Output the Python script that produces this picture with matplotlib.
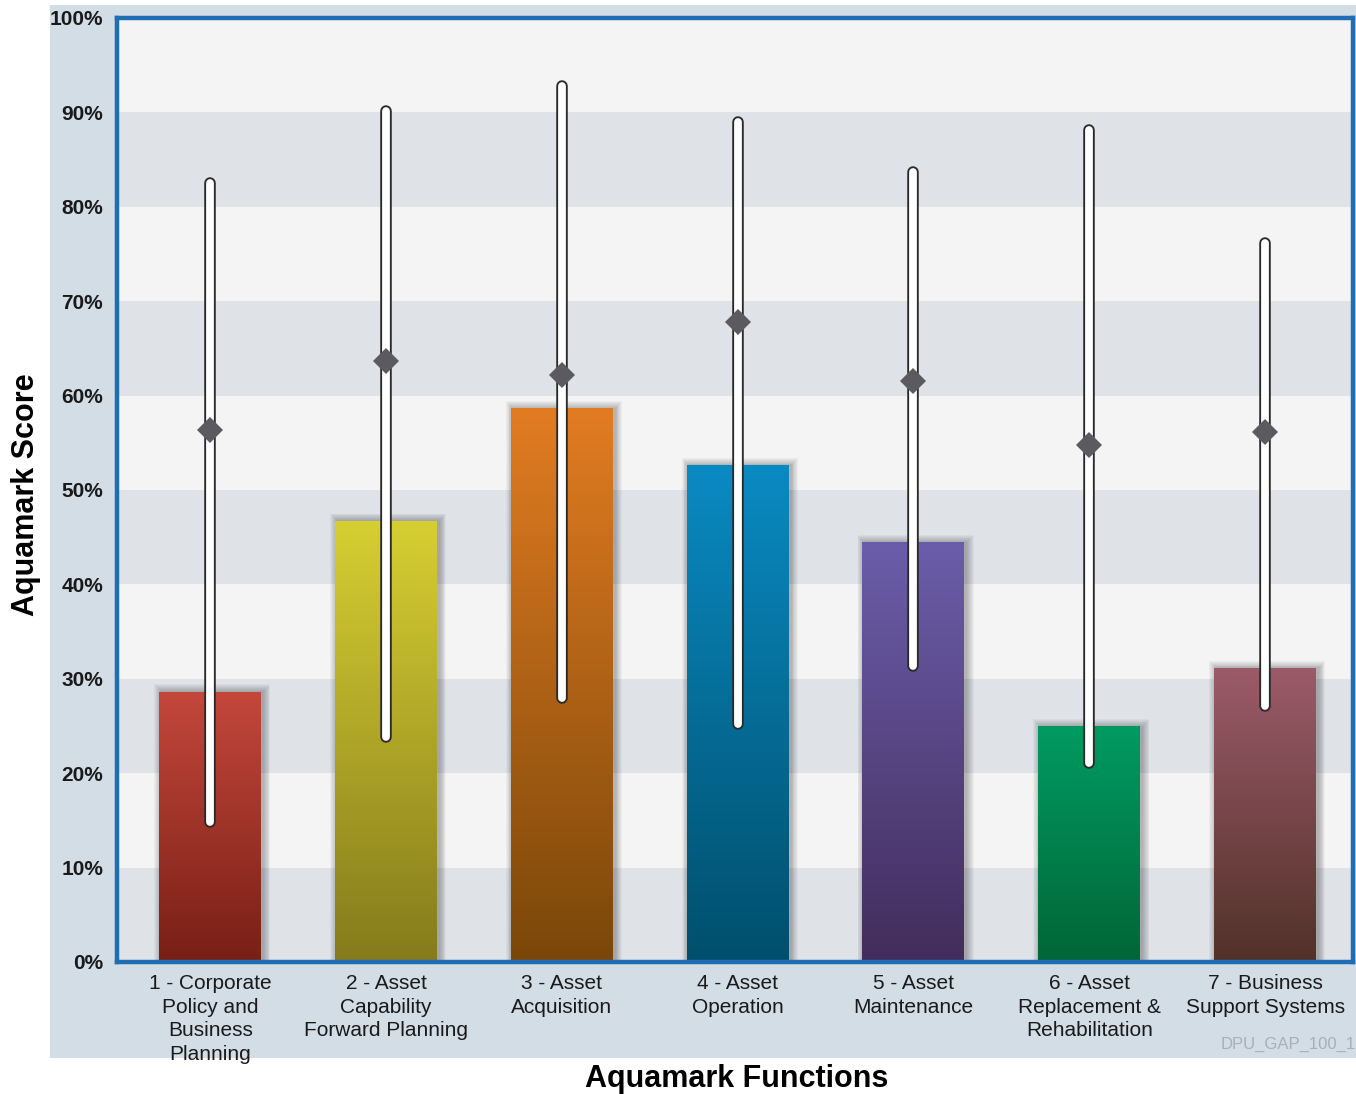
import numpy as np
import matplotlib.pyplot as plt
from matplotlib.patches import Rectangle
from matplotlib.colors import LinearSegmentedColormap

# data
functions = ['1 - Corporate\nPolicy and\nBusiness\nPlanning',
             '2 - Asset\nCapability\nForward Planning',
             '3 - Asset\nAcquisition',
             '4 - Asset\nOperation',
             '5 - Asset\nMaintenance',
             '6 - Asset\nReplacement &\nRehabilitation',
             '7 - Business\nSupport Systems']
scores = [28.6, 46.7, 58.6, 52.6, 44.4, 24.9, 31.1]
range_high = [82.5, 90.1, 92.8, 89.0, 83.7, 88.1, 76.2]
range_low = [14.8, 23.8, 28.0, 25.2, 31.4, 21.1, 27.1]
range_mean = [56.3, 63.7, 62.2, 67.8, 61.5, 54.8, 56.1]
yticks = [0, 10, 20, 30, 40, 50, 60, 70, 80, 90, 100]

bar_top = ['#c4473b', '#d6cf32', '#e27c22', '#0a8ac2', '#6b5daa', '#009b62', '#9b5b69']
bar_bot = ['#781f16', '#857b1c', '#7a4709', '#004f6c', '#432d5c', '#006636', '#523129']

plt.rcParams['font.family'] = ['Liberation Sans Narrow', 'Liberation Sans', 'DejaVu Sans']

fig = plt.figure(figsize=(13.56, 10.94), dpi=100)
fig.patches.append(Rectangle((0.0369, 0.0329), 1.0, 0.9625, transform=fig.transFigure,
                             facecolor='#d3dde6', edgecolor='none', zorder=-5))

ax = fig.add_axes([0.0863, 0.1207, 0.9115, 0.8629])
ax.set_facecolor('#f4f4f4')

# alternating bands
for y0 in range(0, 100, 20):
    ax.axhspan(y0, y0 + 10, facecolor='#dfe3e7', edgecolor='none', zorder=0)

x = np.arange(len(functions))
w = 0.58
grad = np.linspace(1, 0, 256).reshape(-1, 1)
for i, (xi, h) in enumerate(zip(x, scores)):
    # soft shadow, a bit to the right
    for k in range(8):
        pad = 0.005 * (k + 1)
        ax.add_patch(Rectangle((xi - w / 2 - pad + 0.012, 0), w + 2 * pad, h + pad * 20,
                               facecolor='black', alpha=0.035, edgecolor='none', zorder=1))
    cmap = LinearSegmentedColormap.from_list('b%d' % i, [bar_bot[i], bar_top[i]])
    ax.imshow(grad, extent=(xi - w / 2, xi + w / 2, 0, h), aspect='auto', cmap=cmap,
              zorder=2, interpolation='bicubic')

# range lines with mean diamonds
for xi, lo, hi, m in zip(x, range_low, range_high, range_mean):
    ax.plot([xi, xi], [lo, hi], color='#2a2a2a', lw=8.3, solid_capstyle='round', zorder=3)
    ax.plot([xi, xi], [lo, hi], color='white', lw=5.6, solid_capstyle='round', zorder=4)
    ax.plot(xi, m, marker='D', color='#5b5b5f', markersize=13, zorder=5, markeredgewidth=0)

ax.set_xlim(-0.53, 6.5)
ax.set_ylim(0, 100)

for s in ax.spines.values():
    s.set_color('#1f6db3')
    s.set_linewidth(3.2)

ax.set_yticks(yticks)
ax.set_yticklabels(['%d%%' % v for v in yticks], fontsize=15, fontweight='bold', color='#1a1a1a')
ax.set_xticks(x)
ax.set_xticklabels(functions, fontsize=15, color='#1a1a1a')
for t in ax.get_xticklabels():
    t.set_linespacing(1.3)
ax.tick_params(length=0, pad=9)
ax.tick_params(axis='y', pad=10)

fig.text(0.019, 0.548, 'Aquamark Score', rotation=90, ha='center', va='center',
         fontsize=22, fontweight='bold', family=['Liberation Sans', 'DejaVu Sans'])
fig.text(0.543, 0.014, 'Aquamark Functions', ha='center', va='center',
         fontsize=22, fontweight='bold', family=['Liberation Sans', 'DejaVu Sans'])
fig.text(0.9995, 0.045, 'DPU_GAP_100_1', ha='right', va='center', fontsize=12,
         color='#a7b0b8', family=['Liberation Sans', 'DejaVu Sans'])

fig.savefig('out.png', dpi=100)
